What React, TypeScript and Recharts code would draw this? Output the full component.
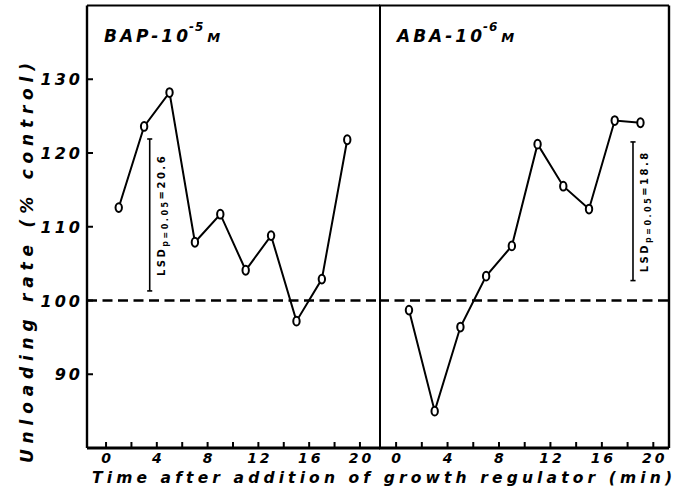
import React from 'react';
import { LineChart, Line, XAxis, YAxis, ReferenceLine } from 'recharts';

// ---- data ----
const minutes = [1, 3, 5, 7, 9, 11, 13, 15, 17, 19];
const bapValues = [112.6, 123.6, 128.2, 107.9, 111.7, 104.1, 108.8, 97.2, 102.9, 121.8];
const abaValues = [98.7, 85.0, 96.4, 103.3, 107.4, 121.2, 115.5, 112.4, 124.4, 124.1];
const xTicks = [0, 2, 4, 6, 8, 10, 12, 14, 16, 18, 20];
const yTicks = [90, 100, 110, 120, 130];
const controlLevel = 100;
const bapLsd = { t: 3.44, low: 101.3, high: 121.9, value: '20.6' };
const abaLsd = { t: 18.42, low: 102.7, high: 121.5, value: '18.8' };

const yDomain: [number, number] = [80, 140];
const leftXDomain: [number, number] = [-1.5, 21.58];
const rightXDomain: [number, number] = [-1.33, 21.22];

const bapData = minutes.map((t, i) => ({ t, v: bapValues[i] }));
const abaData = minutes.map((t, i) => ({ t, v: abaValues[i] }));

const FONT = '"DejaVu Sans", sans-serif';
const textStyle = { fontFamily: FONT, fontWeight: 700, fontStyle: 'italic' as const, fill: '#000' };

const XTick = (props: any) => {
  const { x, y, payload } = props;
  const v = payload.value;
  return (
    <g>
      <line x1={x} x2={x} y1={y} y2={y - 6} stroke="#000" strokeWidth={2} />
      {v % 4 === 0 && (
        <text x={x + 1.5} y={y + 15} textAnchor="middle" fontSize={14} letterSpacing={3} style={textStyle}>
          {v}
        </text>
      )}
    </g>
  );
};

const YTick = (props: any) => {
  const { x, y, payload } = props;
  return (
    <g>
      <line x1={x} x2={x + 6} y1={y} y2={y} stroke="#000" strokeWidth={2} />
      <text x={x - 4} y={y + 6} textAnchor="end" fontSize={16} letterSpacing={3} style={textStyle}>
        {payload.value}
      </text>
    </g>
  );
};

const Marker = (props: any) => {
  const { cx, cy, index } = props;
  if (cx == null || cy == null) return <g key={index} />;
  return <ellipse key={index} cx={cx} cy={cy} rx={3.2} ry={4.4} fill="#fff" stroke="#000" strokeWidth={2} />;
};

const lsdLabel = (value: string) => (props: any) => {
  const vb = props.viewBox || {};
  const cx = (vb.x || 0) + 15;
  const cy = (vb.y || 0) + (vb.height || 0) / 2;
  return (
    <text
      transform={`translate(${cx},${cy}) rotate(-90)`}
      textAnchor="middle"
      fontSize={10}
      letterSpacing={2.5}
      style={{ fontFamily: FONT, fontWeight: 700, fill: '#000' }}
    >
      LSD
      <tspan fontSize={8} dy={3}>p=0.05</tspan>
      <tspan fontSize={10} dy={-3}>={value}</tspan>
    </text>
  );
};

const LsdBar = (lsd: { t: number; low: number; high: number; value: string }, w: number) => [
  <ReferenceLine
    key="v"
    segment={[{ x: lsd.t, y: lsd.low }, { x: lsd.t, y: lsd.high }]}
    stroke="#000"
    strokeWidth={1.6}
    label={lsdLabel(lsd.value)}
  />,
  <ReferenceLine
    key="top"
    segment={[{ x: lsd.t - w, y: lsd.high }, { x: lsd.t + w, y: lsd.high }]}
    stroke="#000"
    strokeWidth={1.6}
  />,
  <ReferenceLine
    key="bot"
    segment={[{ x: lsd.t - w, y: lsd.low }, { x: lsd.t + w, y: lsd.low }]}
    stroke="#000"
    strokeWidth={1.6}
  />,
];

export default function App() {
  return (
    <div style={{ position: 'absolute', left: 0, top: 0, width: 683, height: 491, background: '#fff' }}>
      <div style={{ position: 'absolute', left: 379, top: 0 }}>
        <LineChart width={293} height={491} data={abaData} margin={{ top: 5.5, right: 3, bottom: 0, left: 0 }}>
          <XAxis
            dataKey="t"
            type="number"
            domain={rightXDomain}
            ticks={xTicks}
            allowDataOverflow
            height={43}
            tickSize={0}
            tickMargin={0}
            tickLine={false}
            axisLine={{ stroke: '#000', strokeWidth: 3 }}
            tick={<XTick />}
            interval={0}
          />
          <YAxis type="number" domain={yDomain} allowDataOverflow hide />
          <ReferenceLine y={yDomain[1]} stroke="#000" strokeWidth={2.2} />
          <ReferenceLine x={rightXDomain[1]} stroke="#000" strokeWidth={2.4} />
          <ReferenceLine y={controlLevel} stroke="#000" strokeWidth={2.6} strokeDasharray="10 5.5" />
          {LsdBar(abaLsd, 0.2)}
          <Line
            dataKey="v"
            type="linear"
            stroke="#000"
            strokeWidth={2}
            dot={<Marker />}
            activeDot={false}
            isAnimationActive={false}
          />
        </LineChart>
      </div>
      <div style={{ position: 'absolute', left: 0, top: 0 }}>
        <LineChart width={383} height={491} data={bapData} margin={{ top: 5.5, right: 3, bottom: 0, left: 0 }}>
          <XAxis
            dataKey="t"
            type="number"
            domain={leftXDomain}
            ticks={xTicks}
            allowDataOverflow
            height={43}
            tickSize={0}
            tickMargin={0}
            tickLine={false}
            axisLine={{ stroke: '#000', strokeWidth: 3 }}
            tick={<XTick />}
            interval={0}
          />
          <YAxis
            type="number"
            domain={yDomain}
            ticks={yTicks}
            allowDataOverflow
            width={87}
            tickSize={0}
            tickMargin={0}
            tickLine={false}
            axisLine={{ stroke: '#000', strokeWidth: 2.4 }}
            tick={<YTick />}
            interval={0}
          />
          <ReferenceLine y={yDomain[1]} stroke="#000" strokeWidth={2.2} />
          <ReferenceLine x={leftXDomain[1]} stroke="#000" strokeWidth={2} />
          <ReferenceLine y={controlLevel} stroke="#000" strokeWidth={2.6} strokeDasharray="10 5.5" />
          {LsdBar(bapLsd, 0.2)}
          <Line
            dataKey="v"
            type="linear"
            stroke="#000"
            strokeWidth={2}
            dot={<Marker />}
            activeDot={false}
            isAnimationActive={false}
          />
        </LineChart>
      </div>
      <svg
        width={683}
        height={491}
        style={{ position: 'absolute', left: 0, top: 0, pointerEvents: 'none' }}
      >
        <text x={104} y={42} fontSize={17} letterSpacing={3} style={textStyle}>
          BAP-10
          <tspan fontSize={12} dy={-11} dx={-2} letterSpacing={1}>-5</tspan>
          <tspan fontSize={13} dy={11} dx={3}>M</tspan>
        </text>
        <text x={397} y={42} fontSize={17} letterSpacing={3} style={textStyle}>
          ABA-10
          <tspan fontSize={12} dy={-11} dx={-2} letterSpacing={1}>-6</tspan>
          <tspan fontSize={13} dy={11} dx={3}>M</tspan>
        </text>
        <text
          transform="translate(33,263) rotate(-90)"
          textAnchor="middle"
          fontSize={17}
          textLength={400}
          lengthAdjust="spacing"
          style={textStyle}
        >
          Unloading rate (% control)
        </text>
        <text x={92} y={482.5} fontSize={15.5} textLength={580} lengthAdjust="spacing" style={textStyle}>
          Time after addition of growth regulator  (min)
        </text>
      </svg>
    </div>
  );
}
